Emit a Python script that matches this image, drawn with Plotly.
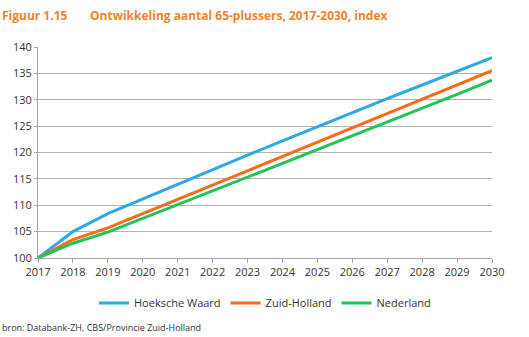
import plotly.graph_objects as go

years = list(range(2017, 2031))
hoeksche_waard = [100, 105.0, 108.4, 111.2, 114.0, 116.8, 119.5, 122.2, 124.9, 127.6, 130.2, 132.8, 135.4, 138.0]
zuid_holland = [100, 103.5, 105.7, 108.4, 111.1, 113.8, 116.5, 119.2, 121.9, 124.6, 127.3, 130.0, 132.8, 135.5]
nederland = [100, 102.8, 104.9, 107.5, 110.1, 112.7, 115.3, 117.9, 120.5, 123.1, 125.7, 128.3, 131.0, 133.7]

series = [
    ("Hoeksche Waard", hoeksche_waard, "#2EA9E8"),
    ("Zuid-Holland", zuid_holland, "#FA6A17"),
    ("Nederland", nederland, "#20C45A"),
]

fig = go.Figure()
for name, vals, col in series:
    fig.add_trace(go.Scatter(x=years, y=vals, name=name, mode="lines",
                             line=dict(color=col, width=3)))

font = "Open Sans, Liberation Sans, sans-serif"
fig.update_layout(
    width=529, height=337,
    margin=dict(l=38, r=37, t=47, b=79),
    plot_bgcolor="white", paper_bgcolor="white",
    font=dict(family=font, size=11, color="#333333"),
    showlegend=True,
    legend=dict(orientation="h", x=0.5, xanchor="center", y=-0.145, yanchor="top",
                font=dict(size=11, color="#333333"), itemwidth=30,
                traceorder="normal"),
    xaxis=dict(range=[2017, 2030], tickmode="array", tickvals=years,
               ticktext=[str(y) for y in years], showgrid=False,
               showline=True, linecolor="#A6A6A6", linewidth=1,
               ticks="outside", ticklen=4, tickcolor="#A6A6A6",
               tickfont=dict(size=11, color="#333333"), zeroline=False),
    yaxis=dict(range=[100, 140], dtick=5, showgrid=True, gridcolor="#B3B3B3",
               gridwidth=1, showline=True, linecolor="#A6A6A6", linewidth=1,
               ticks="outside", ticklen=3, tickcolor="#A6A6A6",
               tickfont=dict(size=11, color="#333333"), zeroline=False),
)

fig.add_annotation(text="<b>Figuur 1.15</b>", xref="paper", yref="paper",
                   x=-38/454, y=1 + (47-15)/211, xanchor="left", yanchor="middle",
                   showarrow=False, font=dict(size=12, color="#F5822A", family=font))
fig.add_annotation(text="<b>Ontwikkeling aantal 65-plussers, 2017-2030, index</b>",
                   xref="paper", yref="paper",
                   x=(88-38)/454, y=1 + (47-15)/211, xanchor="left", yanchor="middle",
                   showarrow=False, font=dict(size=12, color="#F5822A", family=font))
fig.add_annotation(text="bron: Databank-ZH, CBS/Provincie Zuid-Holland",
                   xref="paper", yref="paper",
                   x=-38/454, y=-(327-258)/211, xanchor="left", yanchor="middle",
                   showarrow=False, font=dict(size=9, color="#333333", family=font))

fig.write_html("out.html")
